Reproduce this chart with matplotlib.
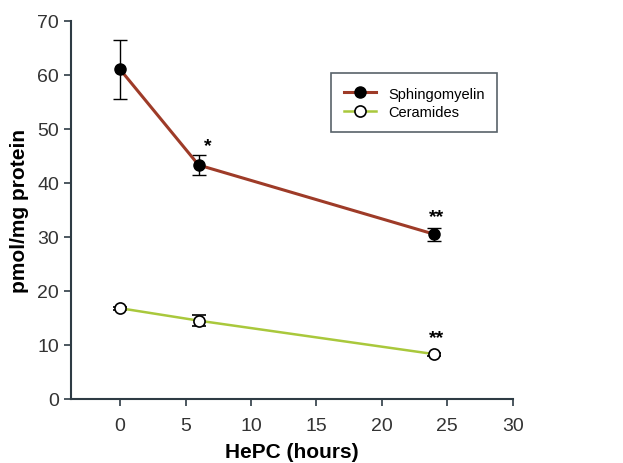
import matplotlib
matplotlib.use("Agg")
import matplotlib.pyplot as plt
from matplotlib.lines import Line2D

hours = [0, 6, 24]
sphingo = [61.0, 43.3, 30.5]
sphingo_err = [5.5, 1.9, 1.2]
ceram = [16.8, 14.5, 8.3]
ceram_err = [0.3, 1.0, 0.3]

sm_color = "#9e3b28"
cer_color = "#a9c83c"
ax_color = "#2e3b44"

plt.rcParams['font.family'] = ['Liberation Sans', 'DejaVu Sans']

fig = plt.figure(figsize=(6.23, 4.64), dpi=100)
ax = fig.add_axes([0.114, 0.138, 0.709, 0.815])

ax.errorbar(hours, sphingo, yerr=sphingo_err, color=sm_color, lw=2.2,
            marker='o', ms=8, mfc='black', mec='black', ecolor='black',
            elinewidth=1, capsize=5, capthick=1, zorder=3)
ax.errorbar(hours, ceram, yerr=ceram_err, color=cer_color, lw=1.8,
            marker='o', ms=8, mfc='white', mec='black', mew=1.2, ecolor='black',
            elinewidth=1, capsize=5, capthick=1, zorder=3)

ax.text(6.7, 45.3, '*', fontsize=14, fontweight='bold', ha='center', va='bottom')
ax.text(24.2, 32.2, '**', fontsize=14, fontweight='bold', ha='center', va='bottom')
ax.text(24.2, 9.8, '**', fontsize=14, fontweight='bold', ha='center', va='bottom')

ax.set_xlim(-3.75, 30)
ax.set_ylim(0, 70)
ax.set_xticks([0, 5, 10, 15, 20, 25, 30])
ax.set_yticks(range(0, 71, 10))
for s in ['top', 'right']:
    ax.spines[s].set_visible(False)
for s in ['left', 'bottom']:
    ax.spines[s].set_color(ax_color)
    ax.spines[s].set_linewidth(1.5)
ax.tick_params(colors=ax_color, labelcolor='#333333', labelsize=14, width=1.2, length=5)
ax.tick_params(axis='x', pad=8)

ax.set_xlabel('HePC (hours)', fontsize=15, fontweight='bold', labelpad=6)
ax.set_ylabel('pmol/mg protein', fontsize=15, fontweight='bold', labelpad=6)

handles = [
    Line2D([], [], color=sm_color, lw=2.2, marker='o', ms=8, mfc='black', mec='black'),
    Line2D([], [], color=cer_color, lw=1.8, marker='o', ms=8, mfc='white', mec='black', mew=1.2),
]
leg = ax.legend(handles, ['Sphingomyelin', 'Ceramides'], loc='upper left',
                bbox_to_anchor=(0.572, 0.88), fontsize=10.5, frameon=True,
                fancybox=False, handlelength=2.2, borderpad=0.9, labelspacing=0.3)
leg.get_frame().set_edgecolor(ax_color)
leg.get_frame().set_linewidth(1.2)

fig.savefig('out.png', dpi=100)
